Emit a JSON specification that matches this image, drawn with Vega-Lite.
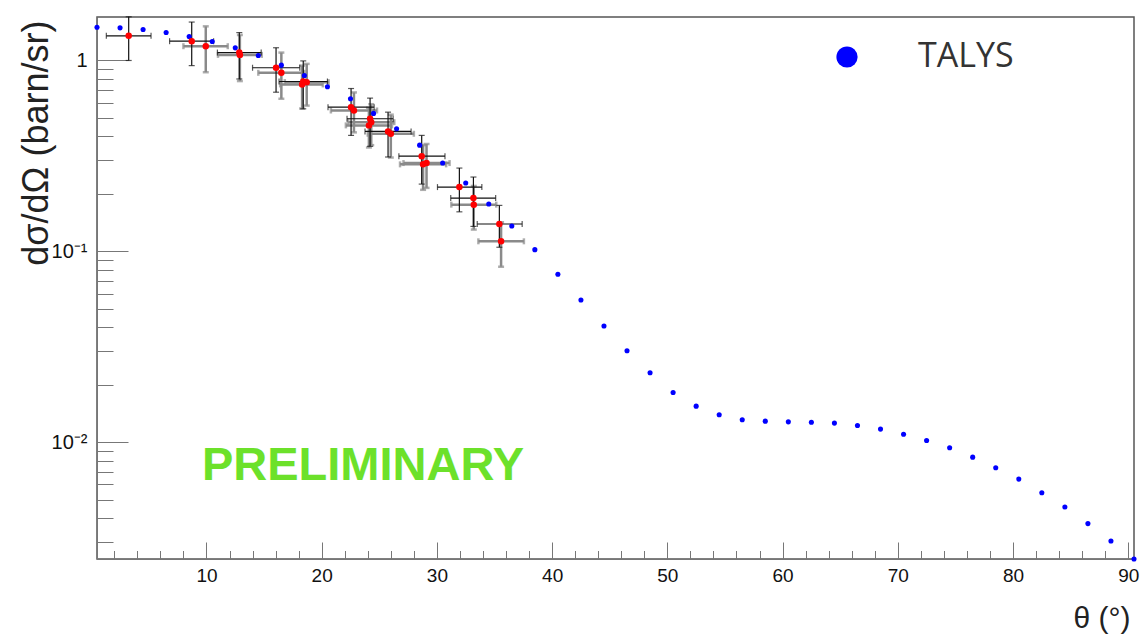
{
  "$schema": "https://vega.github.io/schema/vega-lite/v6.json",
  "width": 1037,
  "height": 542,
  "autosize": {"type": "none"},
  "padding": {"left": 97, "top": 17, "right": 6, "bottom": 78},
  "background": "white",
  "config": {
    "view": {"stroke": "#555", "strokeWidth": 1.5},
    "font": "Liberation Sans",
    "axis": {
      "grid": false,
      "domainColor": "#777",
      "tickColor": "#777",
      "labelColor": "#111",
      "labelFont": "Liberation Sans",
      "labelFontSize": 19,
      "labelOverlap": false,
      "labelFlush": false,
      "titleFont": "Liberation Sans",
      "titleFontWeight": "normal",
      "titleColor": "#222"
    }
  },
  "datasets": {
    "talys": [
      {"theta": 0.5, "xs": 1.493}, {"theta": 2.5, "xs": 1.483}, {"theta": 4.5, "xs": 1.453},
      {"theta": 6.5, "xs": 1.402}, {"theta": 8.5, "xs": 1.336}, {"theta": 10.5, "xs": 1.257},
      {"theta": 12.5, "xs": 1.165}, {"theta": 14.5, "xs": 1.062}, {"theta": 16.5, "xs": 0.945},
      {"theta": 18.5, "xs": 0.835}, {"theta": 20.5, "xs": 0.728}, {"theta": 22.5, "xs": 0.63},
      {"theta": 24.5, "xs": 0.528}, {"theta": 26.5, "xs": 0.4387}, {"theta": 28.5, "xs": 0.36},
      {"theta": 30.5, "xs": 0.29}, {"theta": 32.5, "xs": 0.228}, {"theta": 34.5, "xs": 0.177},
      {"theta": 36.5, "xs": 0.1357}, {"theta": 38.5, "xs": 0.102}, {"theta": 40.5, "xs": 0.0758},
      {"theta": 42.5, "xs": 0.0556}, {"theta": 44.5, "xs": 0.0406}, {"theta": 46.5, "xs": 0.0301},
      {"theta": 48.5, "xs": 0.0231}, {"theta": 50.5, "xs": 0.0182}, {"theta": 52.5, "xs": 0.01543},
      {"theta": 54.5, "xs": 0.0139}, {"theta": 56.5, "xs": 0.0131}, {"theta": 58.5, "xs": 0.01288},
      {"theta": 60.5, "xs": 0.01277}, {"theta": 62.5, "xs": 0.0127}, {"theta": 64.5, "xs": 0.01258},
      {"theta": 66.5, "xs": 0.01222}, {"theta": 68.5, "xs": 0.0117}, {"theta": 70.5, "xs": 0.011},
      {"theta": 72.5, "xs": 0.0102}, {"theta": 74.5, "xs": 0.00934}, {"theta": 76.5, "xs": 0.00834},
      {"theta": 78.5, "xs": 0.00734}, {"theta": 80.5, "xs": 0.0064}, {"theta": 82.5, "xs": 0.00543},
      {"theta": 84.5, "xs": 0.00457}, {"theta": 86.5, "xs": 0.00374}, {"theta": 88.5, "xs": 0.00303},
      {"theta": 90.5, "xs": 0.00244}
    ],
    "expA": [
      {"theta": 3.25, "theta_lo": 1.31, "theta_hi": 5.19, "xs": 1.347, "xs_lo": 1.0, "xs_hi": 1.694},
      {"theta": 8.72, "theta_lo": 6.8, "theta_hi": 10.62, "xs": 1.262, "xs_lo": 0.94, "xs_hi": 1.59},
      {"theta": 12.85, "theta_lo": 10.95, "theta_hi": 14.75, "xs": 1.1, "xs_lo": 0.8, "xs_hi": 1.4},
      {"theta": 16.04, "theta_lo": 14.0, "theta_hi": 18.1, "xs": 0.916, "xs_lo": 0.682, "xs_hi": 1.166},
      {"theta": 18.4, "theta_lo": 16.3, "theta_hi": 20.5, "xs": 0.776, "xs_lo": 0.558, "xs_hi": 0.995},
      {"theta": 22.55, "theta_lo": 20.55, "theta_hi": 24.55, "xs": 0.569, "xs_lo": 0.405, "xs_hi": 0.713},
      {"theta": 24.2, "theta_lo": 22.2, "theta_hi": 26.2, "xs": 0.495, "xs_lo": 0.355, "xs_hi": 0.635},
      {"theta": 25.76, "theta_lo": 23.76, "theta_hi": 27.76, "xs": 0.425, "xs_lo": 0.312, "xs_hi": 0.536},
      {"theta": 28.68, "theta_lo": 26.7, "theta_hi": 30.7, "xs": 0.315, "xs_lo": 0.225, "xs_hi": 0.405},
      {"theta": 31.95, "theta_lo": 30.05, "theta_hi": 33.9, "xs": 0.217, "xs_lo": 0.161, "xs_hi": 0.273},
      {"theta": 33.17, "theta_lo": 31.2, "theta_hi": 35.1, "xs": 0.19, "xs_lo": 0.135, "xs_hi": 0.245},
      {"theta": 35.42, "theta_lo": 33.5, "theta_hi": 37.4, "xs": 0.139, "xs_lo": 0.105, "xs_hi": 0.174}
    ],
    "expB": [
      {"theta": 9.94, "theta_lo": 8.0, "theta_hi": 11.85, "xs": 1.188, "xs_lo": 0.868, "xs_hi": 1.51},
      {"theta": 12.9, "theta_lo": 11.0, "theta_hi": 14.8, "xs": 1.07, "xs_lo": 0.78, "xs_hi": 1.36},
      {"theta": 16.5, "theta_lo": 14.5, "theta_hi": 18.5, "xs": 0.862, "xs_lo": 0.63, "xs_hi": 1.1},
      {"theta": 18.3, "theta_lo": 16.4, "theta_hi": 20.1, "xs": 0.749, "xs_lo": 0.56, "xs_hi": 0.94},
      {"theta": 18.7, "theta_lo": 16.8, "theta_hi": 20.6, "xs": 0.77, "xs_lo": 0.58, "xs_hi": 0.96},
      {"theta": 22.8, "theta_lo": 20.8, "theta_hi": 24.8, "xs": 0.547, "xs_lo": 0.42, "xs_hi": 0.68},
      {"theta": 24.1, "theta_lo": 22.1, "theta_hi": 26.1, "xs": 0.457, "xs_lo": 0.35, "xs_hi": 0.565},
      {"theta": 24.3, "theta_lo": 22.3, "theta_hi": 26.3, "xs": 0.475, "xs_lo": 0.36, "xs_hi": 0.59},
      {"theta": 26.0, "theta_lo": 24.0, "theta_hi": 28.0, "xs": 0.413, "xs_lo": 0.31, "xs_hi": 0.52},
      {"theta": 28.8, "theta_lo": 26.8, "theta_hi": 30.8, "xs": 0.2855, "xs_lo": 0.21, "xs_hi": 0.36},
      {"theta": 29.1, "theta_lo": 27.1, "theta_hi": 31.1, "xs": 0.29, "xs_lo": 0.215, "xs_hi": 0.365},
      {"theta": 33.2, "theta_lo": 31.25, "theta_hi": 35.15, "xs": 0.1756, "xs_lo": 0.13, "xs_hi": 0.22},
      {"theta": 35.57, "theta_lo": 33.6, "theta_hi": 37.55, "xs": 0.1128, "xs_lo": 0.083, "xs_hi": 0.142}
    ]
  },
  "layer": [
    {
      "data": {"name": "talys"},
      "mark": {"type": "point", "opacity": 0},
      "encoding": {
        "x": {
          "field": "theta", "type": "quantitative", "title": "θ (°)",
          "scale": {"domain": [0.5, 90.5], "nice": false, "zero": false},
          "axis": {
            "values": [2, 4, 6, 8, 10, 12, 14, 16, 18, 20, 22, 24, 26, 28, 30, 32, 34, 36, 38, 40, 42, 44, 46, 48, 50, 52, 54, 56, 58, 60, 62, 64, 66, 68, 70, 72, 74, 76, 78, 80, 82, 84, 86, 88, 90],
            "tickCount": 200,
            "format": "d",
            "labelExpr": "datum.value % 10 == 0 ? datum.label : ''",
            "tickSize": {"condition": {"test": "datum.value % 10 == 0", "value": -17}, "value": -8.5},
            "labelPadding": 24,
            "labelFlush": false,
            "labelOverlap": false,
            "titleFontSize": 30,
            "titleAnchor": "end",
            "titleAlign": "right",
            "titleBaseline": "alphabetic",
            "titleX": 1033,
            "titleY": 68
          }
        },
        "y": {
          "field": "xs", "type": "quantitative", "title": "dσ/dΩ (barn/sr)",
          "scale": {"type": "log", "domain": [0.00244, 1.69], "nice": false},
          "axis": {
            "values": [0.003, 0.004, 0.005, 0.006, 0.007, 0.008, 0.009, 0.01, 0.02, 0.03, 0.04, 0.05, 0.06, 0.07, 0.08, 0.09, 0.1, 0.2, 0.3, 0.4, 0.5, 0.6, 0.7, 0.8, 0.9, 1],
            "tickCount": 200,
            "labelExpr": "datum.value == 1 ? '1' : datum.value == 0.1 ? '10⁻¹' : datum.value == 0.01 ? '10⁻²' : ''",
            "tickSize": {"condition": {"test": "datum.value == 1 || datum.value == 0.1 || datum.value == 0.01", "value": -31}, "value": -16},
            "labelPadding": 41,
            "labelFontSize": 20,
            "labelOverlap": false,
            "labelFlush": false,
            "titleFontSize": 36,
            "titleAnchor": "end",
            "titleAlign": "right",
            "titleBaseline": "alphabetic",
            "titleAngle": -90,
            "titleX": -50,
            "titleY": 3
          }
        }
      }
    },
    {
      "data": {"name": "expB"},
      "mark": {"type": "errorbar", "ticks": true, "size": 6, "thickness": 2.5, "color": "#8a8a8a"},
      "encoding": {
        "x": {"field": "theta_lo", "type": "quantitative", "title": "θ (°)"},
        "x2": {"field": "theta_hi"},
        "y": {"field": "xs", "type": "quantitative", "title": "dσ/dΩ (barn/sr)"}
      }
    },
    {
      "data": {"name": "expB"},
      "mark": {"type": "errorbar", "ticks": true, "size": 6, "thickness": 2.5, "color": "#8a8a8a"},
      "encoding": {
        "y": {"field": "xs_lo", "type": "quantitative", "title": "dσ/dΩ (barn/sr)"},
        "y2": {"field": "xs_hi"},
        "x": {"field": "theta", "type": "quantitative", "title": "θ (°)"}
      }
    },
    {
      "data": {"name": "expA"},
      "mark": {"type": "errorbar", "ticks": true, "size": 6, "thickness": 1.2, "color": "#111"},
      "encoding": {
        "x": {"field": "theta_lo", "type": "quantitative", "title": "θ (°)"},
        "x2": {"field": "theta_hi"},
        "y": {"field": "xs", "type": "quantitative", "title": "dσ/dΩ (barn/sr)"}
      }
    },
    {
      "data": {"name": "expA"},
      "mark": {"type": "errorbar", "ticks": true, "size": 6, "thickness": 1.2, "color": "#111"},
      "encoding": {
        "y": {"field": "xs_lo", "type": "quantitative", "title": "dσ/dΩ (barn/sr)"},
        "y2": {"field": "xs_hi"},
        "x": {"field": "theta", "type": "quantitative", "title": "θ (°)"}
      }
    },
    {
      "data": {"name": "talys"},
      "mark": {"type": "point", "filled": true, "size": 26, "opacity": 1},
      "encoding": {
        "x": {"field": "theta", "type": "quantitative", "title": "θ (°)"},
        "y": {"field": "xs", "type": "quantitative", "title": "dσ/dΩ (barn/sr)"},
        "color": {
          "datum": "TALYS",
          "scale": {"range": ["#0000ff"]},
          "legend": {
            "orient": "none",
            "legendX": 733,
            "legendY": 23,
            "title": null,
            "padding": 0,
            "symbolType": "circle",
            "symbolSize": 450,
            "symbolStrokeWidth": 0,
            "labelFont": "Open Sans",
            "labelFontSize": 34,
            "labelColor": "#333",
            "labelOffset": 54
          }
        }
      }
    },
    {
      "data": {"name": "expA"},
      "mark": {"type": "point", "filled": true, "size": 42, "opacity": 1, "color": "#ff0000"},
      "encoding": {
        "x": {"field": "theta", "type": "quantitative", "title": "θ (°)"},
        "y": {"field": "xs", "type": "quantitative", "title": "dσ/dΩ (barn/sr)"}
      }
    },
    {
      "data": {"name": "expB"},
      "mark": {"type": "point", "filled": true, "size": 42, "opacity": 1, "color": "#ff0000"},
      "encoding": {
        "x": {"field": "theta", "type": "quantitative", "title": "θ (°)"},
        "y": {"field": "xs", "type": "quantitative", "title": "dσ/dΩ (barn/sr)"}
      }
    },
    {
      "data": {"values": [{"note": "PRELIMINARY"}]},
      "mark": {"type": "text", "font": "Liberation Sans", "fontWeight": "bold", "fontSize": 47, "color": "#6ce12a", "align": "left", "baseline": "middle"},
      "encoding": {
        "text": {"field": "note"},
        "x": {"datum": 9.61, "type": "quantitative", "title": "θ (°)"},
        "y": {"datum": 0.0075, "type": "quantitative", "title": "dσ/dΩ (barn/sr)"}
      }
    }
  ]
}
